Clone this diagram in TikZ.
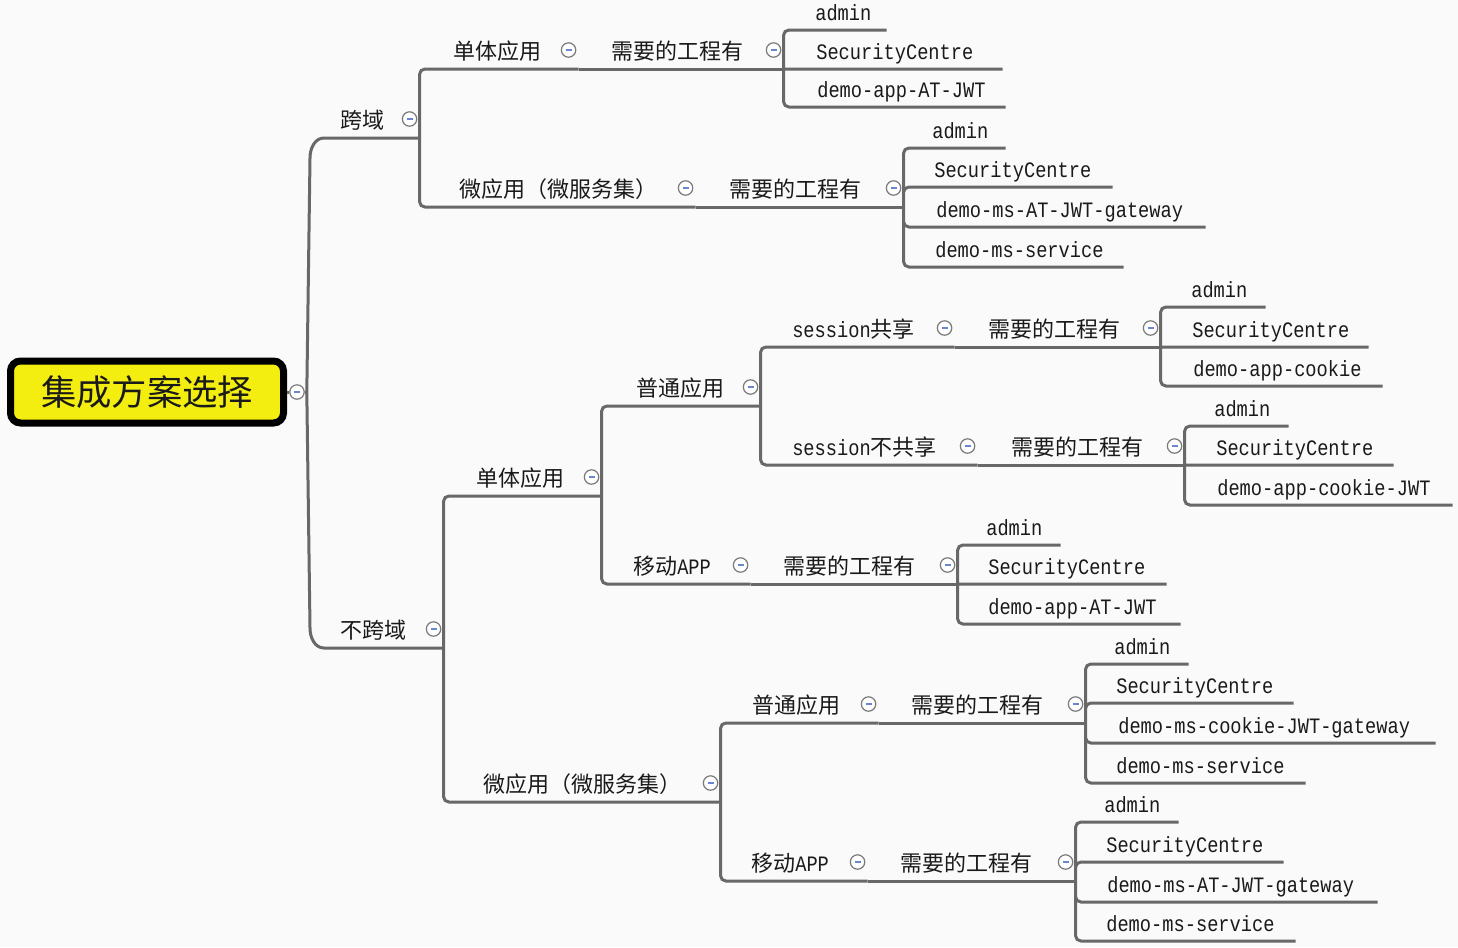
\documentclass[tikz,border=0pt]{standalone}
\usepackage{fontspec}
\setmainfont{Liberation Mono}[FakeStretch=0.85]
\newfontfamily\zhfont{Noto Sans CJK SC}
\usepackage{tikz}
\usetikzlibrary{calc}
\definecolor{MapBack}{HTML}{FAFAFA}
\definecolor{MapLine}{HTML}{686868}
\definecolor{MapText}{HTML}{1A1A1A}
\definecolor{MapYellow}{HTML}{F3EE10}
\definecolor{MapFold}{HTML}{7A7A7A}
\definecolor{MapFoldBlue}{HTML}{6A86D0}
\newdimen\mapunit \mapunit=0.75pt
\newcommand{\zh}[1]{{\zhfont #1}}
\newcommand{\tp}[3][32]{\makebox[#2\mapunit][l]{\hspace*{#1\mapunit}#3}}
\newcommand{\fminus}{\textcolor{MapFoldBlue}{\rule{4.5pt}{0.9pt}}}

\begin{document}
\begin{tikzpicture}[
      x=0.75pt,y=-0.75pt,
      centre/.style={rectangle,draw=black,line width=5.25pt,fill=MapYellow,
        rounded corners=7.5pt,minimum width=204.75pt,minimum height=46.5pt,
        text=MapText,font=\fontsize{26.5pt}{30pt}\zhfont},
      topic/.style={anchor=south west,inner xsep=0pt,inner ysep=6.9pt,
        text height=12pt,text depth=0pt,text=MapText,
        font=\fontsize{16.5pt}{18pt}\selectfont},
      branch/.style={draw=MapLine,line width=2.25pt,rounded corners=4pt},
      fold/.style={circle,draw=MapFold,fill=white,line width=0.9pt,
        minimum size=10.8pt,inner sep=0pt}
    ]
      \useasboundingbox (0,0) rectangle (1458,947);
      \fill[MapBack] (0,0) rectangle (1458,947);

      \node[centre] (root) at (147,392) {集成方案选择};
      \node[fold] (root-fold) at ($(root.east)+(10,0)$) {\fminus};
      \coordinate (hub) at ($(root-fold.east)+(2,0)$);

      \node[topic] (kuayu) at (318,138) {\tp[22]{101}{\zh{跨域}}};
      \node[topic] (bukuayu) at (318,648) {\tp[22]{125}{\zh{不跨域}}};

      \node[topic] (kyDanti) at (419,69) {\tp[34]{159}{\zh{单体应用}}};
      \node[topic] (kyDantiNeed) at (578,69) {\tp[33]{205}{\zh{需要的工程有}}};
      \node[topic] (kyDaAdmin) at (783,30) {\tp{103}{admin}};
      \node[topic] (kyDaSec) at (783,69) {\tp[33]{219}{SecurityCentre}};
      \node[topic] (kyDaApp) at (783,107) {\tp[34]{222}{demo-app-AT-JWT}};

      \node[topic] (kyWei) at (419,207) {\tp[40]{276}{\zh{微应用（微服务集）}}};
      \node[topic] (kyWeiNeed) at (695,207) {\tp[34]{208}{\zh{需要的工程有}}};
      \node[topic] (kyWeAdmin) at (903,148) {\tp[29]{102}{admin}};
      \node[topic] (kyWeSec) at (903,187) {\tp[31]{209}{SecurityCentre}};
      \node[topic] (kyWeGate) at (903,227) {\tp[33]{302}{demo-ms-AT-JWT-gateway}};
      \node[topic] (kyWeServ) at (903,267) {\tp{220}{demo-ms-service}};

      \node[topic] (bkDanti) at (443,496) {\tp[33]{158}{\zh{单体应用}}};
      \node[topic] (bkPutong) at (601,406) {\tp[35]{159}{\zh{普通应用}}};
      \node[topic] (bkShare) at (760,347) {\tp{194}{session\zh{共享}}};
      \node[topic] (bkShareNeed) at (954,347) {\tp[34]{206}{\zh{需要的工程有}}};
      \node[topic] (bkShAdmin) at (1160,307) {\tp[31]{105}{admin}};
      \node[topic] (bkShSec) at (1160,347) {\tp{208}{SecurityCentre}};
      \node[topic] (bkShApp) at (1160,386) {\tp[33]{222}{demo-app-cookie}};
      \node[topic] (bkNoShare) at (760,465) {\tp{217}{session\zh{不共享}}};
      \node[topic] (bkNoShareNeed) at (977,465) {\tp[34]{207}{\zh{需要的工程有}}};
      \node[topic] (bkNsAdmin) at (1184,426) {\tp[30]{104}{admin}};
      \node[topic] (bkNsSec) at (1184,465) {\tp{209}{SecurityCentre}};
      \node[topic] (bkNsApp) at (1184,505) {\tp[33]{268}{demo-app-cookie-JWT}};
      \node[topic] (bkMobile) at (601,584) {\tp{149}{\zh{移动}APP}};
      \node[topic] (bkMobileNeed) at (750,584) {\tp[33]{207}{\zh{需要的工程有}}};
      \node[topic] (bkMoAdmin) at (957,545) {\tp[29]{103}{admin}};
      \node[topic] (bkMoSec) at (957,584) {\tp[31]{209}{SecurityCentre}};
      \node[topic] (bkMoApp) at (957,624) {\tp[31]{223}{demo-app-AT-JWT}};

      \node[topic] (bkWei) at (443,802) {\tp[40]{277}{\zh{微应用（微服务集）}}};
      \node[topic] (bwPutong) at (720,723) {\tp{158}{\zh{普通应用}}};
      \node[topic] (bwPutongNeed) at (878,723) {\tp[33]{207}{\zh{需要的工程有}}};
      \node[topic] (bwPuAdmin) at (1085,664) {\tp[29]{103}{admin}};
      \node[topic] (bwPuSec) at (1085,703) {\tp[31]{208}{SecurityCentre}};
      \node[topic] (bwPuGate) at (1085,743) {\tp[33]{350}{demo-ms-cookie-JWT-gateway}};
      \node[topic] (bwPuServ) at (1085,783) {\tp[31]{220}{demo-ms-service}};
      \node[topic] (bwMobile) at (720,881) {\tp[31]{147}{\zh{移动}APP}};
      \node[topic] (bwMobileNeed) at (867,881) {\tp[33]{208}{\zh{需要的工程有}}};
      \node[topic] (bwMoAdmin) at (1075,822) {\tp[29]{103}{admin}};
      \node[topic] (bwMoSec) at (1075,862) {\tp[31]{208}{SecurityCentre}};
      \node[topic] (bwMoGate) at (1075,902) {\tp{302}{demo-ms-AT-JWT-gateway}};
      \node[topic] (bwMoServ) at (1075,941) {\tp[31]{220}{demo-ms-service}};

      \draw[branch] (root.east) -- (root-fold.west);
      \draw[branch] (root-fold.east) -- (hub);
      \draw[branch,rounded corners=0pt] (kuayu.south east)
        -- ($(kuayu.south west)+(6,0)$)
        .. controls +(-9,0) and +(0,-10) .. ($(kuayu.south west)+(-8,20)$)
        -- (hub) -- ($(bukuayu.south west)+(-8,-20)$)
        .. controls +(0,10) and +(-9,0) .. ($(bukuayu.south west)+(6,0)$)
        -- (bukuayu.south east);

      \draw[branch] (kuayu.south east) |- (kyDanti.south east)
        (kuayu.south east) |- (kyWei.south east);
      \draw[branch] (kyDanti.south east) -- (kyDantiNeed.south east);
      \draw[branch] (kyDantiNeed.south east) |- (kyDaAdmin.south east)
        (kyDantiNeed.south east) -- (kyDaSec.south east)
        (kyDantiNeed.south east) |- (kyDaApp.south east);
      \draw[branch] (kyWei.south east) -- (kyWeiNeed.south east);
      \draw[branch] (kyWeiNeed.south east) |- (kyWeAdmin.south east)
        (kyWeiNeed.south east) |- (kyWeSec.south east)
        (kyWeiNeed.south east) |- (kyWeGate.south east)
        (kyWeiNeed.south east) |- (kyWeServ.south east);

      \draw[branch] (bukuayu.south east) |- (bkDanti.south east)
        (bukuayu.south east) |- (bkWei.south east);
      \draw[branch] (bkDanti.south east) |- (bkPutong.south east)
        (bkDanti.south east) |- (bkMobile.south east);
      \draw[branch] (bkPutong.south east) |- (bkShare.south east)
        (bkPutong.south east) |- (bkNoShare.south east);
      \draw[branch] (bkShare.south east) -- (bkShareNeed.south east);
      \draw[branch] (bkShareNeed.south east) |- (bkShAdmin.south east)
        (bkShareNeed.south east) -- (bkShSec.south east)
        (bkShareNeed.south east) |- (bkShApp.south east);
      \draw[branch] (bkNoShare.south east) -- (bkNoShareNeed.south east);
      \draw[branch] (bkNoShareNeed.south east) |- (bkNsAdmin.south east)
        (bkNoShareNeed.south east) -- (bkNsSec.south east)
        (bkNoShareNeed.south east) |- (bkNsApp.south east);
      \draw[branch] (bkMobile.south east) -- (bkMobileNeed.south east);
      \draw[branch] (bkMobileNeed.south east) |- (bkMoAdmin.south east)
        (bkMobileNeed.south east) -- (bkMoSec.south east)
        (bkMobileNeed.south east) |- (bkMoApp.south east);

      \draw[branch] (bkWei.south east) |- (bwPutong.south east)
        (bkWei.south east) |- (bwMobile.south east);
      \draw[branch] (bwPutong.south east) -- (bwPutongNeed.south east);
      \draw[branch] (bwPutongNeed.south east) |- (bwPuAdmin.south east)
        (bwPutongNeed.south east) |- (bwPuSec.south east)
        (bwPutongNeed.south east) |- (bwPuGate.south east)
        (bwPutongNeed.south east) |- (bwPuServ.south east);
      \draw[branch] (bwMobile.south east) -- (bwMobileNeed.south east);
      \draw[branch] (bwMobileNeed.south east) |- (bwMoAdmin.south east)
        (bwMobileNeed.south east) |- (bwMoSec.south east)
        (bwMobileNeed.south east) |- (bwMoGate.south east)
        (bwMobileNeed.south east) |- (bwMoServ.south east);

      \node[fold] (kuayu-fold) at ($(kuayu.south east)+(-10,-19)$) {\fminus};
      \node[fold] (bukuayu-fold) at ($(bukuayu.south east)+(-10,-19)$) {\fminus};
      \node[fold] (kyDanti-fold) at ($(kyDanti.south east)+(-10,-19)$) {\fminus};
      \node[fold] (kyDantiNeed-fold) at ($(kyDantiNeed.south east)+(-10,-19)$) {\fminus};
      \node[fold] (kyWei-fold) at ($(kyWei.south east)+(-10,-19)$) {\fminus};
      \node[fold] (kyWeiNeed-fold) at ($(kyWeiNeed.south east)+(-10,-19)$) {\fminus};
      \node[fold] (bkDanti-fold) at ($(bkDanti.south east)+(-10,-19)$) {\fminus};
      \node[fold] (bkPutong-fold) at ($(bkPutong.south east)+(-10,-19)$) {\fminus};
      \node[fold] (bkShare-fold) at ($(bkShare.south east)+(-10,-19)$) {\fminus};
      \node[fold] (bkShareNeed-fold) at ($(bkShareNeed.south east)+(-10,-19)$) {\fminus};
      \node[fold] (bkNoShare-fold) at ($(bkNoShare.south east)+(-10,-19)$) {\fminus};
      \node[fold] (bkNoShareNeed-fold) at ($(bkNoShareNeed.south east)+(-10,-19)$) {\fminus};
      \node[fold] (bkMobile-fold) at ($(bkMobile.south east)+(-10,-19)$) {\fminus};
      \node[fold] (bkMobileNeed-fold) at ($(bkMobileNeed.south east)+(-10,-19)$) {\fminus};
      \node[fold] (bkWei-fold) at ($(bkWei.south east)+(-10,-19)$) {\fminus};
      \node[fold] (bwPutong-fold) at ($(bwPutong.south east)+(-10,-19)$) {\fminus};
      \node[fold] (bwPutongNeed-fold) at ($(bwPutongNeed.south east)+(-10,-19)$) {\fminus};
      \node[fold] (bwMobile-fold) at ($(bwMobile.south east)+(-10,-19)$) {\fminus};
      \node[fold] (bwMobileNeed-fold) at ($(bwMobileNeed.south east)+(-10,-19)$) {\fminus};
    \end{tikzpicture}
\end{document}
